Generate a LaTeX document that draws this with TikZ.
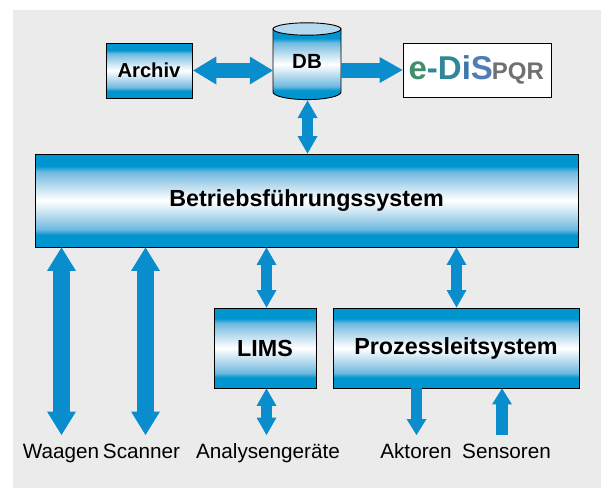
\documentclass[tikz,border=0pt]{standalone}
\usepackage{fontspec}
\setmainfont{Liberation Sans}
\usetikzlibrary{arrows.meta}
\definecolor{flow}{HTML}{0A8DCD}
\definecolor{pagebg}{HTML}{EBEBEB}
\definecolor{flowdark}{HTML}{0095CE}
\definecolor{flowmid}{HTML}{6DB9DF}
\definecolor{flowlight}{HTML}{A5D2EA}
\definecolor{flowpale}{HTML}{DDEEF7}
\definecolor{edgreen}{HTML}{3F8F6B}
\definecolor{edteal}{HTML}{2F8797}
\definecolor{edblue}{HTML}{3A78A8}
\definecolor{edpurple}{HTML}{4F7DB5}
\definecolor{edgray}{HTML}{707070}
\definecolor{dbtop}{HTML}{B5D9EE}
\pgfdeclareverticalshading{boxgrad}{100bp}{
 color(0bp)=(flowdark);
 color(25bp)=(flowdark);
 color(31.5bp)=(flowdark);
 color(34.5bp)=(flowmid);
 color(40bp)=(flowlight);
 color(46bp)=(flowpale);
 color(50bp)=(white);
 color(54bp)=(flowpale);
 color(60bp)=(flowlight);
 color(65.5bp)=(flowmid);
 color(68.5bp)=(flowdark);
 color(75bp)=(flowdark);
 color(100bp)=(flowdark)}
\tikzset{
 x=1pt,y=-1pt,
 panel/.style={draw=black,line width=0.9pt,shading=boxgrad,inner sep=0pt,font=\fontsize{23.3}{26}\selectfont\bfseries,text=black},
 smallpanel/.style={panel,font=\fontsize{20.2}{24}\selectfont\bfseries},
 caption/.style={anchor=base,inner sep=0pt,font=\fontsize{20.7}{24}\selectfont,text=black},
 bigtwo/.style={draw=flow,line width=17pt,{Triangle[length=23.5pt,width=29pt,line width=0pt]}-{Triangle[length=23.5pt,width=29pt,line width=0pt]}},
 midtwo/.style={draw=flow,line width=15.5pt,{Triangle[length=23pt,width=28pt,line width=0pt]}-{Triangle[length=23pt,width=28pt,line width=0pt]}},
 smalltwo/.style={draw=flow,line width=11.5pt,{Triangle[length=17.5pt,width=20pt,line width=0pt]}-{Triangle[length=17.5pt,width=20pt,line width=0pt]}},
 oneway/.style={draw=flow,line width=11.5pt,-{Triangle[length=16pt,width=20pt,line width=0pt]}},
 onewide/.style={draw=flow,line width=15pt,-{Triangle[length=23pt,width=26pt,line width=0pt]}},
}
\begin{document}
\begin{tikzpicture}
\useasboundingbox (0,0) rectangle (601,488);
\fill[pagebg] (13,10) rectangle (601,488);
% database cylinder
\path[shading=boxgrad,draw=black,line width=0.9pt]
  (273,29) -- (273,92) arc[start angle=180,end angle=0,x radius=34,y radius=7.6] -- (341,29) -- cycle;
\path[draw=black,line width=0.9pt,fill=dbtop] (307,29) ellipse[x radius=34,y radius=6.2];
\node[inner sep=0pt,minimum width=68pt,minimum height=77pt,font=\fontsize{20.5}{24}\selectfont\bfseries] (db) at (307,61.5) {DB};
% boxes
\node[smallpanel,minimum width=86pt,minimum height=55pt] (archiv) at (149,70.5) {Archiv};
\node[draw=black,line width=0.9pt,fill=white,inner sep=0pt,minimum width=148pt,minimum height=54pt] (edis) at (477,70)
  {\hspace{-1.5pt}\fontsize{33}{34}\selectfont\bfseries\textcolor{edgreen}{e}\textcolor{edteal}{-D}\textcolor{edblue}{i}\textcolor{edpurple}{S}\hspace{-1pt}\fontsize{24}{26}\selectfont\textcolor{edgray}{PQR}};
\node[panel,minimum width=543pt,minimum height=93pt] (betrieb) at (306.5,200.5) {Betriebsführungssystem};
\node[panel,minimum width=102pt,minimum height=80pt] (lims) at (265,348) {LIMS};
\node[panel,minimum width=246pt,minimum height=80pt] (pls) at (456,348) {Prozessleitsystem};
% captions
\node[caption] (waagen) at (61,458) {Waagen};
\node[caption] (scanner) at (141.5,458) {Scanner};
\node[caption] (analyse) at (268,458) {Analysengeräte};
\node[caption] (aktoren) at (416,458) {Aktoren};
\node[caption] (sensoren) at (506.5,458) {Sensoren};
% free ends just above the captions
\coordinate (wend) at (61.5,435);
\coordinate (send) at (145.5,435);
\coordinate (aend) at (266.5,435);
\coordinate (kend) at (416.5,435);
\coordinate (nend) at (502,435);
\coordinate (dbbot) at (307.5,100.5);
\coordinate (limstop) at (266.5,307.5);
\coordinate (plstop) at (456.5,307.5);
% connectors
\draw[midtwo] (archiv.east) ++(0.8,0) -- (db.west |- archiv.east);
\draw[onewide] (db.east |- edis.west) -- (edis.west);
\draw[smalltwo] (dbbot) -- (dbbot |- betrieb.north);
\draw[bigtwo] (wend |- betrieb.south) -- (wend);
\draw[bigtwo] (send |- betrieb.south) -- (send);
\draw[smalltwo] (limstop |- betrieb.south) -- (limstop);
\draw[smalltwo] (plstop |- betrieb.south) -- (plstop);
\draw[smalltwo] (aend |- lims.south) -- (aend);
\draw[oneway] (kend |- pls.south) -- (kend);
\draw[oneway] (nend) -- (nend |- pls.south);
\end{tikzpicture}
\end{document}
